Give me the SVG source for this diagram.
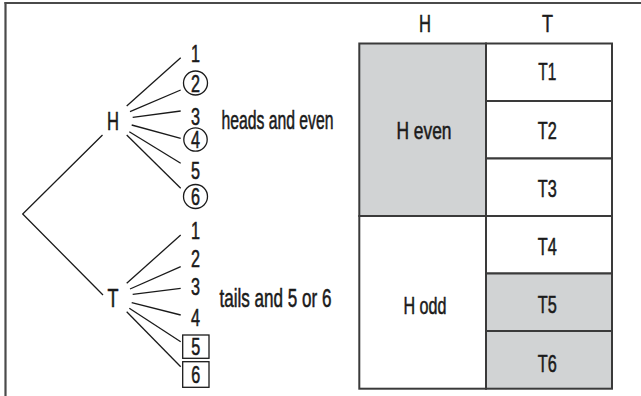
<svg xmlns="http://www.w3.org/2000/svg" width="641" height="396" viewBox="0 0 641 396">
<style>
text{font-family:"Liberation Sans",Arial,sans-serif;fill:#1a1a1a;stroke:#1a1a1a;stroke-width:0.55;text-anchor:middle}
.d{font-size:24px}
.l{font-size:25px}
.t{font-size:24px}
.lbl{text-anchor:start}
.c{fill:none;stroke:#1a1a1a;stroke-width:1.3}
.br{stroke:#1a1a1a;stroke-width:1.3;fill:none}
.cell{stroke:#3a3a3a;stroke-width:2}
.g{fill:#d1d3d4}
.w{fill:#ffffff}
</style>
<rect width="641" height="396" fill="#fff"/>
<g id="frame" stroke="#4a4a4a" stroke-width="2.2" fill="none">
<line x1="4.5" y1="3" x2="641" y2="3"/>
<line x1="5.5" y1="2" x2="5.5" y2="396"/>
</g>
<g id="connectors" class="br">
<polyline points="102.5,135 22.7,214 103,295"/>
<line x1="126.7" y1="106" x2="180.7" y2="57.7"/>
<line x1="130" y1="111.7" x2="180.7" y2="90"/>
<line x1="132.7" y1="117.3" x2="180.7" y2="111"/>
<line x1="131.7" y1="125" x2="180.7" y2="138.3"/>
<line x1="129.3" y1="131.7" x2="180.7" y2="163.3"/>
<line x1="126.7" y1="135" x2="180.7" y2="188.3"/>
<line x1="126.7" y1="283.3" x2="180.7" y2="235"/>
<line x1="130" y1="289" x2="180.7" y2="266.7"/>
<line x1="132.7" y1="294.3" x2="180.7" y2="288.3"/>
<line x1="131.7" y1="302.7" x2="180.7" y2="315"/>
<line x1="129.3" y1="308.3" x2="180.7" y2="341.7"/>
<line x1="126.7" y1="311.7" x2="180.7" y2="366.7"/>
</g>
<g id="node-H"><text class="l" x="113" y="130" textLength="12" lengthAdjust="spacingAndGlyphs">H</text></g>
<g id="node-T"><text class="l" x="113" y="307" textLength="11" lengthAdjust="spacingAndGlyphs">T</text></g>
<g id="node-H1"><text class="d" x="195.5" y="62" textLength="9" lengthAdjust="spacingAndGlyphs">1</text></g>
<g id="node-H2"><circle class="c" cx="195.5" cy="83" r="12"/><text class="d" x="195.5" y="91.5" textLength="9" lengthAdjust="spacingAndGlyphs">2</text></g>
<g id="node-H3"><text class="d" x="195.5" y="125" textLength="9" lengthAdjust="spacingAndGlyphs">3</text></g>
<g id="node-H4"><circle class="c" cx="195.5" cy="139.5" r="11.7"/><text class="d" x="195.5" y="148" textLength="9" lengthAdjust="spacingAndGlyphs">4</text></g>
<g id="node-H5"><text class="d" x="195.5" y="178.5" textLength="9" lengthAdjust="spacingAndGlyphs">5</text></g>
<g id="node-H6"><circle class="c" cx="195.5" cy="196.5" r="12"/><text class="d" x="195.5" y="205" textLength="9" lengthAdjust="spacingAndGlyphs">6</text></g>
<g id="node-T1"><text class="d" x="195.5" y="238.5" textLength="9" lengthAdjust="spacingAndGlyphs">1</text></g>
<g id="node-T2"><text class="d" x="195.5" y="267" textLength="9" lengthAdjust="spacingAndGlyphs">2</text></g>
<g id="node-T3"><text class="d" x="195.5" y="295" textLength="9" lengthAdjust="spacingAndGlyphs">3</text></g>
<g id="node-T4"><text class="d" x="195.5" y="326" textLength="9" lengthAdjust="spacingAndGlyphs">4</text></g>
<g id="node-T5"><rect class="c" x="182.7" y="335" width="26.3" height="23.3"/><text class="d" x="195.8" y="355" textLength="9" lengthAdjust="spacingAndGlyphs">5</text></g>
<g id="node-T6"><rect class="c" x="182.7" y="361.7" width="26.3" height="25.6"/><text class="d" x="195.8" y="383" textLength="9" lengthAdjust="spacingAndGlyphs">6</text></g>
<g id="label-heads"><text class="l lbl" x="221.5" y="128.5" textLength="112" lengthAdjust="spacingAndGlyphs">heads and even</text></g>
<g id="label-tails"><text class="l lbl" x="219.5" y="306.5" textLength="112" lengthAdjust="spacingAndGlyphs">tails and 5 or 6</text></g>
<g id="table">
<text class="t" x="425" y="31.5" textLength="12" lengthAdjust="spacingAndGlyphs">H</text>
<text class="t" x="547.5" y="31.5" textLength="11" lengthAdjust="spacingAndGlyphs">T</text>
<g id="cell-Heven"><rect class="cell g" x="359.3" y="43.5" width="126.7" height="172.5"/><text class="t" x="424" y="138.5" textLength="55" lengthAdjust="spacingAndGlyphs">H even</text></g>
<g id="cell-Hodd"><rect class="cell w" x="359.3" y="216" width="126.7" height="172.7"/><text class="t" x="425" y="314" textLength="43" lengthAdjust="spacingAndGlyphs">H odd</text></g>
<g id="cell-T1"><rect class="cell w" x="486" y="43.5" width="126" height="57.5"/><text class="t" x="547.3" y="80" textLength="18" lengthAdjust="spacingAndGlyphs">T1</text></g>
<g id="cell-T2"><rect class="cell w" x="486" y="101" width="126" height="57.5"/><text class="t" x="547.3" y="138.5" textLength="19" lengthAdjust="spacingAndGlyphs">T2</text></g>
<g id="cell-T3"><rect class="cell w" x="486" y="158.5" width="126" height="57.5"/><text class="t" x="547.3" y="196.5" textLength="19" lengthAdjust="spacingAndGlyphs">T3</text></g>
<g id="cell-T4"><rect class="cell w" x="486" y="216" width="126" height="57.5"/><text class="t" x="547.3" y="255" textLength="19" lengthAdjust="spacingAndGlyphs">T4</text></g>
<g id="cell-T5"><rect class="cell g" x="486" y="273.5" width="126" height="57.5"/><text class="t" x="547.3" y="313.3" textLength="19" lengthAdjust="spacingAndGlyphs">T5</text></g>
<g id="cell-T6"><rect class="cell g" x="486" y="331" width="126" height="57.7"/><text class="t" x="547.3" y="371.7" textLength="19" lengthAdjust="spacingAndGlyphs">T6</text></g>
</g>
</svg>
